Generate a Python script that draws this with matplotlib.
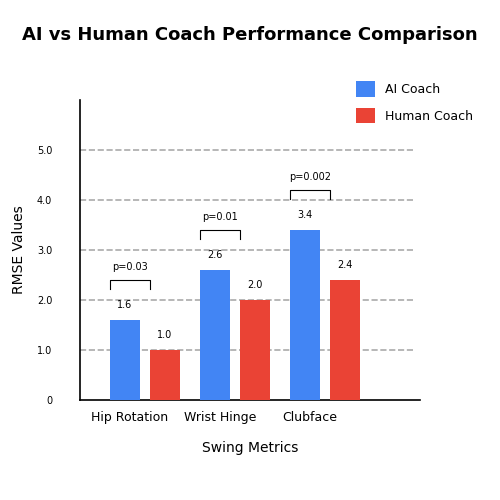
import matplotlib
matplotlib.use("Agg")
import matplotlib.pyplot as plt
import numpy as np

categories = ["Hip Rotation", "Wrist Hinge", "Clubface"]
ai_values = [1.6, 2.6, 3.4]
human_values = [1.0, 2.0, 2.4]
p_values = ["p=0.03", "p=0.01", "p=0.002"]

fig = plt.figure(figsize=(5, 5), dpi=100)
ax = fig.add_axes([0.16, 0.2, 0.68, 0.6])
x = np.arange(len(categories))
w = 1/3
ai_x = x - 0.222
hu_x = x + 0.222
ax.bar(ai_x, ai_values, w, color="#4285F4", label="AI Coach", zorder=3)
ax.bar(hu_x, human_values, w, color="#EA4335", label="Human Coach", zorder=3)
for xi, v in zip(ai_x, ai_values):
    ax.text(xi, v + 0.2, f"{v:.1f}", ha="center", va="bottom", fontsize=7)
for xi, v in zip(hu_x, human_values):
    ax.text(xi, v + 0.2, f"{v:.1f}", ha="center", va="bottom", fontsize=7)
for xi, v, p in zip(ai_x, ai_values, p_values):
    y = v + 0.8
    x0, x1 = xi - w/2, xi + w/2 + 0.11
    ax.plot([x0, x0, x1, x1], [y - 0.18, y, y, y - 0.18], color="black", lw=0.8)
    ax.text((x0 + x1)/2, y + 0.15, p, ha="center", va="bottom", fontsize=7)

ax.set_xlim(-0.722, 3.055)
ax.set_ylim(0, 6)
ax.set_yticks([0, 1, 2, 3, 4, 5])
ax.set_yticklabels(["0", "1.0", "2.0", "3.0", "4.0", "5.0"], fontsize=7)
ax.set_xticks(x - 0.17)
ax.set_xticklabels(categories, fontsize=9)
ax.tick_params(length=0, pad=8)
ax.tick_params(axis="y", pad=20)
for yv in [1, 2, 3, 4, 5]:
    ax.plot([-0.722, 2.99], [yv, yv], ls="--", color="#aaaaaa", lw=1.2, zorder=1)
ax.spines["top"].set_visible(False)
ax.spines["right"].set_visible(False)
ax.spines["left"].set_linewidth(1.2)
ax.spines["bottom"].set_linewidth(1.2)
ax.set_xlabel("Swing Metrics", fontsize=10, labelpad=12)
ax.set_ylabel("RMSE Values", fontsize=10, labelpad=8)
fig.text(0.5, 0.93, "AI vs Human Coach Performance Comparison", ha="center", va="center",
         fontsize=13, fontweight="bold")
fig.legend(loc="upper left", bbox_to_anchor=(0.69, 0.86), frameon=False, fontsize=9,
           handlelength=1.5, handleheight=1.5, labelspacing=0.9)
fig.savefig("out.png")
